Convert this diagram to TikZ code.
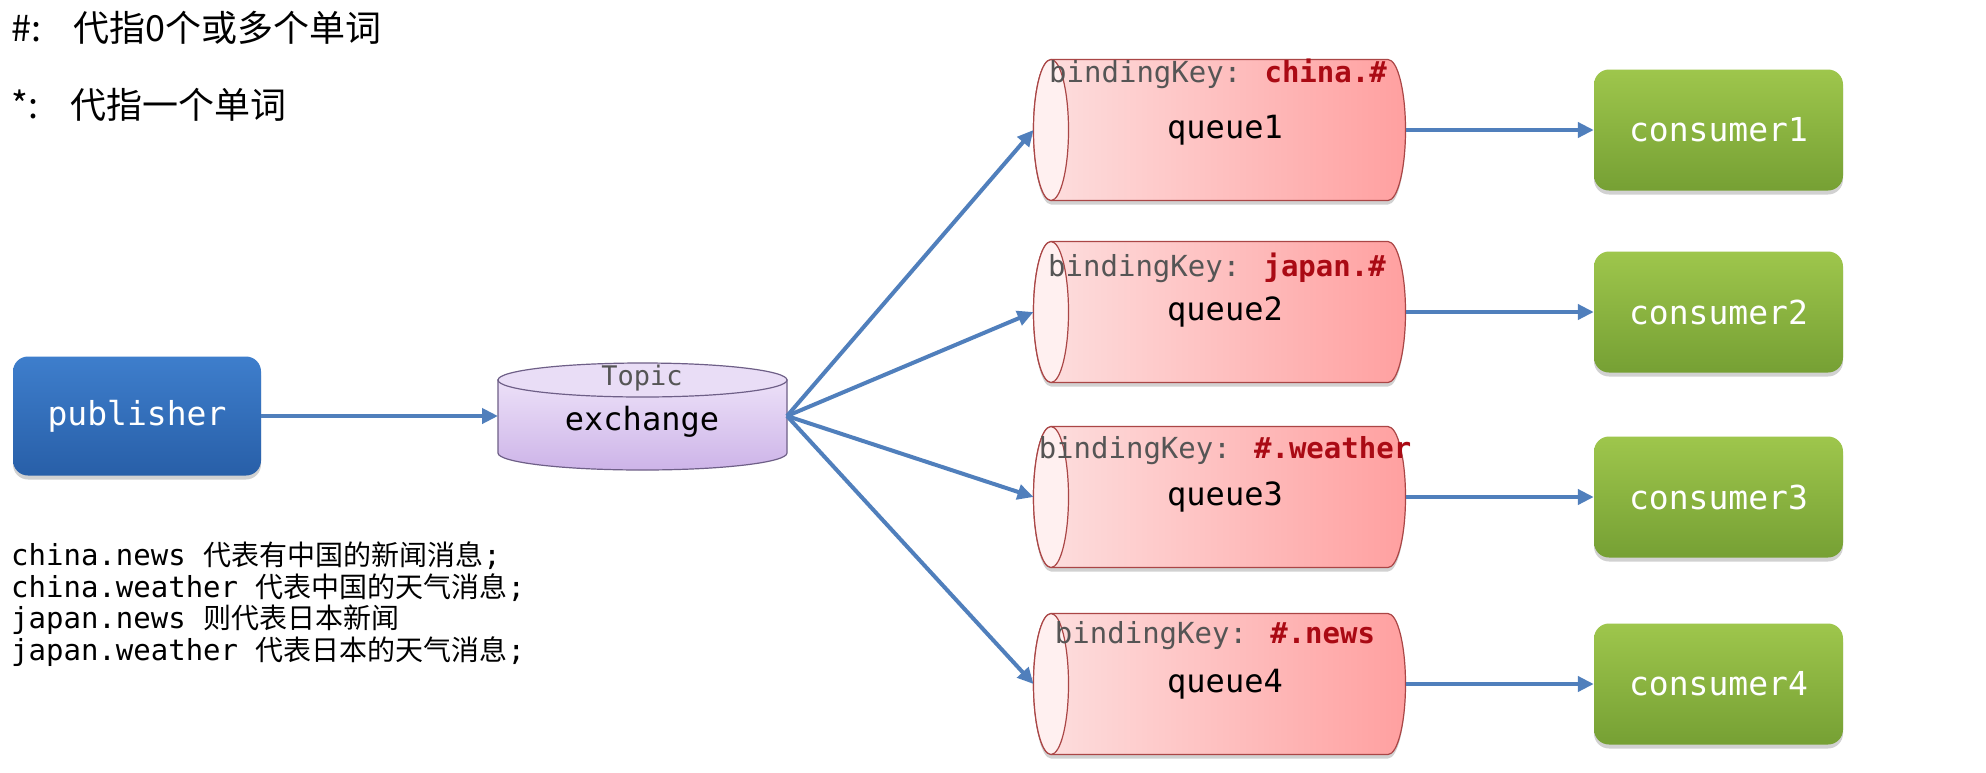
\documentclass[tikz,border=0pt]{standalone}
\usepackage{fontspec}
\usetikzlibrary{arrows.meta,shadows}
\newfontfamily\mono{DejaVu Sans Mono}
\newfontfamily\cjk{Noto Sans CJK SC}
\definecolor{arrowblue}{RGB}{80,127,188}
\definecolor{qleft}{RGB}{253,224,224}
\definecolor{qright}{RGB}{255,160,160}
\definecolor{qend}{RGB}{255,240,240}
\definecolor{qborder}{RGB}{170,70,70}
\definecolor{keyred}{RGB}{170,10,20}
\definecolor{keygray}{RGB}{85,85,85}
\definecolor{gtop}{RGB}{158,198,76}
\definecolor{gbot}{RGB}{118,160,52}
\definecolor{btop}{RGB}{62,126,204}
\definecolor{bbot}{RGB}{40,95,168}
\definecolor{exTop}{RGB}{236,224,248}
\definecolor{exBot}{RGB}{205,180,232}
\definecolor{exTopE}{RGB}{233,221,246}
\definecolor{exBorder}{RGB}{110,95,135}
\begin{document}
\begin{tikzpicture}[x=1pt,y=1pt,
  conn/.style={draw=arrowblue, line width=4pt, -{Triangle[length=16pt,width=15pt]}},
  softshadow/.style={drop shadow={shadow xshift=0pt, shadow yshift=-4pt, opacity=0.18, fill=black}},
  consumer/.style={rectangle, rounded corners=15pt, minimum width=249pt, minimum height=121pt,
    inner sep=0pt, top color=gtop, bottom color=gbot, text=white, softshadow,
    font=\mono\fontsize{33}{36}\selectfont},
  pubbox/.style={rectangle, rounded corners=15pt, minimum width=248pt, minimum height=119pt,
    inner sep=0pt, top color=btop, bottom color=bbot, text=white, softshadow,
    font=\mono\fontsize{33}{36}\selectfont},
  qbody/.style={left color=qleft, right color=qright, draw=qborder, line width=1.2pt, softshadow},
  qend/.style={fill=qend, draw=qborder, line width=1.2pt},
  qlabel/.style={inner sep=0pt, text=black, font=\mono\fontsize{32}{36}\selectfont},
  keytext/.style={inner sep=0pt, text=keygray, font=\mono\fontsize{29}{32}\selectfont},
  note/.style={anchor=west, inner sep=0pt, text=black, font=\cjk\fontsize{36}{40}\selectfont},
  msg/.style={anchor=west, inner sep=0pt, text=black, font=\mono\fontsize{29}{32}\selectfont},
]
\useasboundingbox (0,0) rectangle (1986,-772);
\fill[white] (0,0) rectangle (1986,-772);

% notes top-left
\node[note] (n1) at (11,-28) {\#:\hspace{0.9em}代指0个或多个单词};
\node[note] (n2) at (11,-105) {*:\hspace{0.9em}代指一个单词};

% publisher
\node[pubbox] (pub) at (137,-416) {publisher};

% exchange cylinder
\path[top color=exTop, bottom color=exBot, draw=exBorder, line width=1.2pt]
  (498,-380) -- (498,-453) arc[start angle=180, end angle=360, x radius=144.5, y radius=17]
  -- (787,-380) -- cycle;
\path[fill=exTopE, draw=exBorder, line width=1.2pt] (642.5,-380) ellipse[x radius=144.5, y radius=17];
\node[inner sep=0pt, text=keygray, font=\mono\fontsize{27}{30}\selectfont] (topic) at (642,-378) {Topic};
\node[qlabel] (ex) at (642,-422) {exchange};
\coordinate (exL) at (498,-416);
\coordinate (exR) at (787,-416);

% queues
\foreach \cy/\n in {130/1,312/2,497/3,684/4}{
  \path[qbody] (1051,{70.5-\cy}) -- (1388,{70.5-\cy})
    arc[start angle=90, end angle=-90, x radius=17.5, y radius=70.5]
    -- (1051,{-70.5-\cy})
    arc[start angle=270, end angle=90, x radius=17.5, y radius=70.5] -- cycle;
  \path[qend] (1051,-\cy) ellipse[x radius=17.5, y radius=70.5];
  \coordinate (qin\n) at (1033.5,-\cy);
  \coordinate (qout\n) at (1405.5,-\cy);
}
\node[qlabel] (q1) at (1225,-130) {queue1};
\node[qlabel] (q2) at (1225,-312) {queue2};
\node[qlabel] (q3) at (1225,-497) {queue3};
\node[qlabel] (q4) at (1225,-684) {queue4};
\node[keytext] (k1) at (1218,-74) {bindingKey: {\bfseries\color{keyred}china.\#}};
\node[keytext] (k2) at (1217,-268) {bindingKey: {\bfseries\color{keyred}japan.\#}};
\node[keytext] (k3) at (1225,-451) {bindingKey: {\bfseries\color{keyred}\#.weather}};
\node[keytext] (k4) at (1215,-636) {bindingKey: {\bfseries\color{keyred}\#.news}};

% consumers
\node[consumer] (c1) at (1718.5,-130) {consumer1};
\node[consumer] (c2) at (1718.5,-312) {consumer2};
\node[consumer] (c3) at (1718.5,-497) {consumer3};
\node[consumer] (c4) at (1718.5,-684) {consumer4};

% connectors
\draw[conn] (pub.east) -- (exL);
\foreach \n in {1,2,3,4}{
  \draw[conn] (exR) -- (qin\n);
  \draw[conn] (qout\n) -- (c\n.west);
}

% messages bottom-left
\node[msg] (m1) at (11,-556) {china.news {\cjk\fontsize{28}{32}\selectfont 代表有中国的新闻消息};};
\node[msg] (m2) at (11,-588) {china.weather {\cjk\fontsize{28}{32}\selectfont 代表中国的天气消息};};
\node[msg] (m3) at (11,-620) {japan.news {\cjk\fontsize{28}{32}\selectfont 则代表日本新闻}};
\node[msg] (m4) at (11,-652) {japan.weather {\cjk\fontsize{28}{32}\selectfont 代表日本的天气消息};};
\end{tikzpicture}
\end{document}
